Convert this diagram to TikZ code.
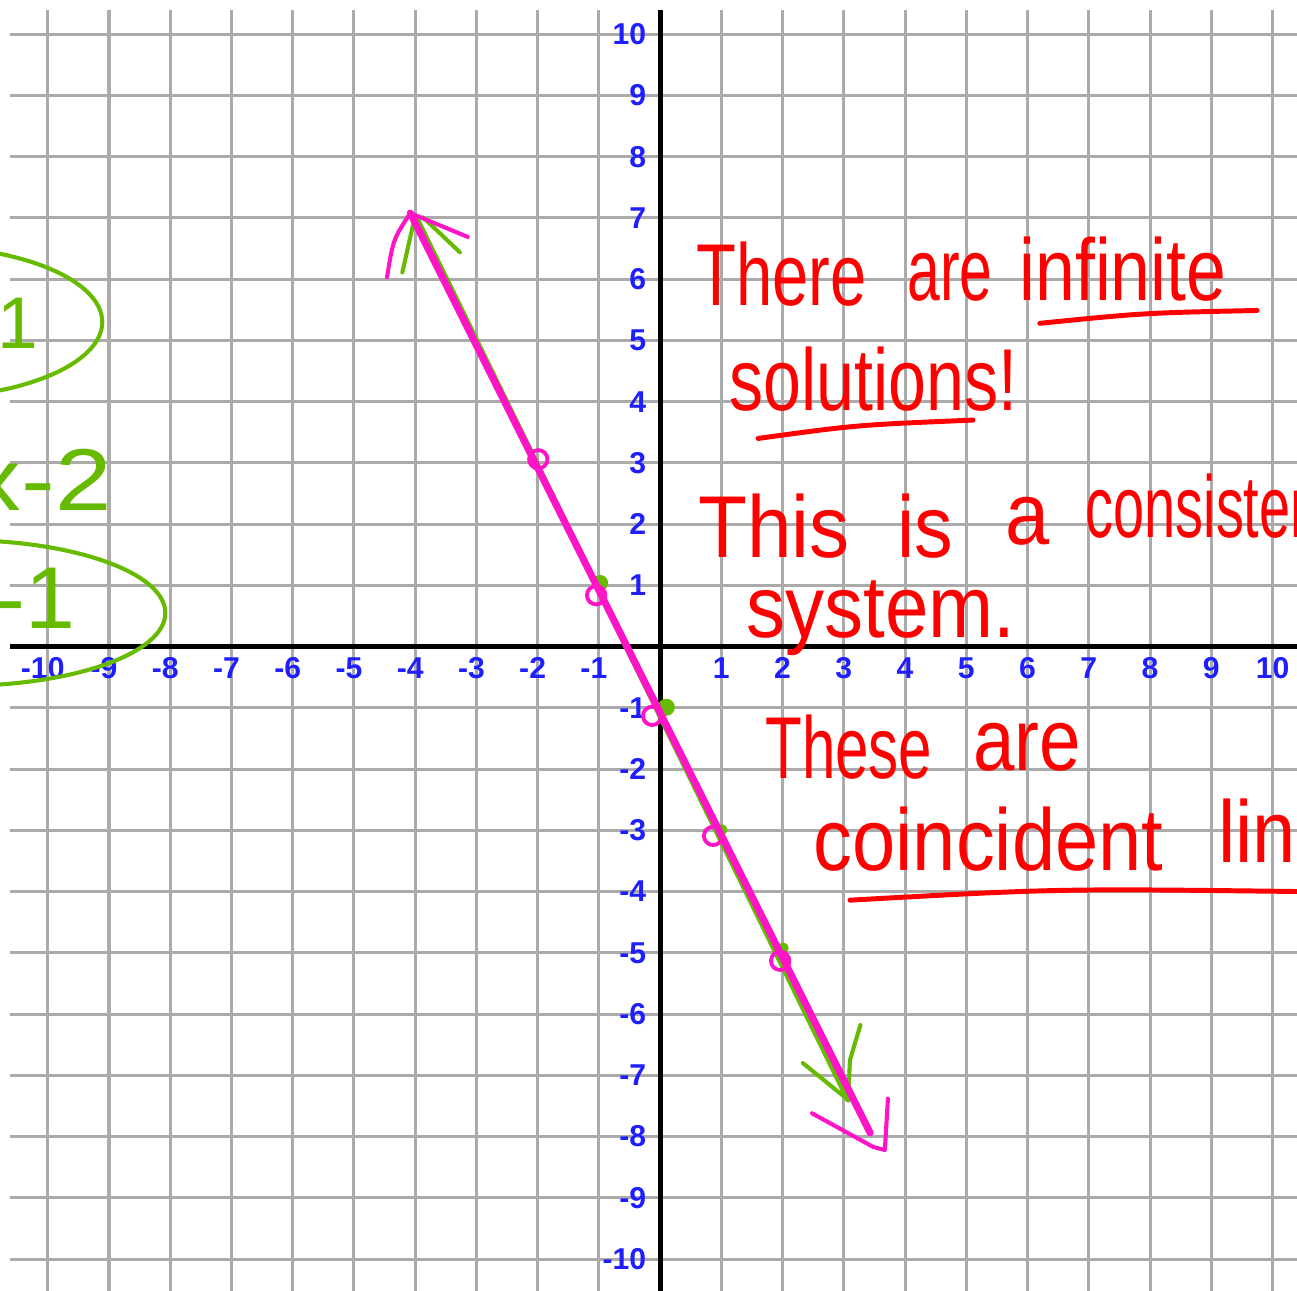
\documentclass[tikz,border=0pt]{standalone}
\usepackage{fontspec}
\setmainfont{Liberation Sans}
\usepackage{graphicx}
\definecolor{gridgray}{HTML}{ABABAB}
\definecolor{tickblue}{HTML}{1E1EFF}
\definecolor{penred}{HTML}{FF0000}
\definecolor{penpink}{HTML}{FF14C8}
\definecolor{pengreen}{HTML}{66BB00}
\newcommand{\pen}[2]{\resizebox{#1}{1.2\height}{#2}}

\begin{document}
\begin{tikzpicture}[
  gridline/.style={gridgray,line width=1.4pt},
  axisline/.style={black,line width=2.4pt},
  ticklabel/.style={tickblue,font=\fontsize{14}{15}\bfseries\selectfont,inner sep=0pt},
  redpen/.style={penred,line width=2.3pt,line cap=round,line join=round},
  greenpen/.style={pengreen,line width=1.9pt,line cap=round,line join=round},
  pinkpen/.style={penpink,line width=1.9pt,line cap=round,line join=round},
  word/.style={font=\fontsize{34}{40}\selectfont,inner sep=0pt,anchor=base west}]
\useasboundingbox (-10.78,-10.52) rectangle (10.40,10.56);
\clip (-10.78,-10.52) rectangle (10.40,10.56);
\fill[white] (-10.78,-10.52) rectangle (10.40,10.56);
\foreach \i in {-10,...,10}{
  \draw[gridline] (\i,-10.6) -- (\i,10.39);
  \draw[gridline] (-10.62,\i) -- (10.5,\i);}
\draw[axisline] (-10.62,0) -- (10.5,0);
\draw[axisline] (0,-10.6) -- (0,10.39);
\foreach \i in {1,...,10}{
  \node[ticklabel] (xp\i) at (\i,-0.35) {\i};
  \node[ticklabel] (xn\i) at (-\i,-0.35) {\llap{-}\i};
  \node[ticklabel,anchor=east] (yp\i) at (-0.22,\i) {\i};
  \node[ticklabel,anchor=east] (yn\i) at (-0.22,-\i) {-\i};}

\draw[greenpen] (-12.08,5.30) ellipse [x radius=2.97,y radius=1.24];
\draw[greenpen] (-11.43,0.55) ellipse [x radius=3.35,y radius=1.19];
\node[word,pengreen,anchor=base east] (eqa) at (-10.15,4.87) {-1};
\node[word,pengreen,anchor=base east] (eqb) at (-8.95,2.23) {\pen{2.3cm}{x-2}};
\node[word,pengreen,anchor=base east] (eqc) at (-9.55,0.30) {\pen{1.3cm}{-1}};

\coordinate (gtop) at (-3.97,6.98);
\coordinate (gbot) at (3.07,-7.40);
\draw[greenpen,line width=2.6pt] (gtop) -- (gbot);
\draw[greenpen] (-4.21,6.11) -- (-4.03,6.91);
\draw[greenpen] (-3.87,7.01) -- (-3.27,6.44);
\draw[greenpen] (2.33,-6.80) -- (gbot);
\draw[greenpen] (3.27,-6.18) -- (3.10,-6.75) -- (gbot);
\foreach \x/\y/\r in {-0.98/1.04/0.13,0.10/-0.99/0.14,1.01/-2.99/0.09,2.01/-4.92/0.09}
  \fill[pengreen] (\x,\y) circle (\r);

\coordinate (ptop) at (-4.08,7.08);
\coordinate (pbot) at (3.43,-7.94);
\draw[pinkpen,line width=3.3pt] (ptop) -- (pbot);
\draw[pinkpen] (-4.46,6.03) .. controls (-4.36,6.65) .. (ptop) -- (-3.14,6.69);
\draw[pinkpen] (2.48,-7.62) -- (3.48,-8.17) -- (3.67,-8.22) -- (3.72,-7.38);
\foreach \x/\y in {-1.99/3.06,-1.045/0.84,-0.13/-1.13,0.865/-3.09,1.96/-5.13}
  \draw[pinkpen,line width=1.8pt] (\x,\y) circle (0.15);

\foreach \n/\x/\y/\w/\t in {there/0.59/5.57/2.78/There,are/4.03/5.66/1.39/are,
  infinite/5.86/5.66/3.38/infinite,solutions/1.13/3.86/4.70/solutions!,
  this/0.62/1.46/2.47/This,is/3.87/1.46/0.91/is,a/5.63/1.66/0.72/a,
  consistent/6.94/1.79/4.11/consistent,system/1.40/0.15/4.39/system.,
  these/1.71/-2.15/2.73/These,arealso/5.11/-2.02/1.76/are,
  coincident/2.50/-3.65/5.71/coincident,lines/9.11/-3.52/2.61/lines}
  \node[word,penred] (\n) at (\x,\y) {\pen{\w cm}{\t}};
\draw[redpen] (6.20,5.28) .. controls (7.9,5.45) .. (9.75,5.49);
\draw[redpen] (1.60,3.40) .. controls (3.2,3.62) .. (5.11,3.70);
\draw[redpen] (3.10,-4.14) .. controls (6.5,-3.95) .. (10.5,-4.00);
\end{tikzpicture}
\end{document}
